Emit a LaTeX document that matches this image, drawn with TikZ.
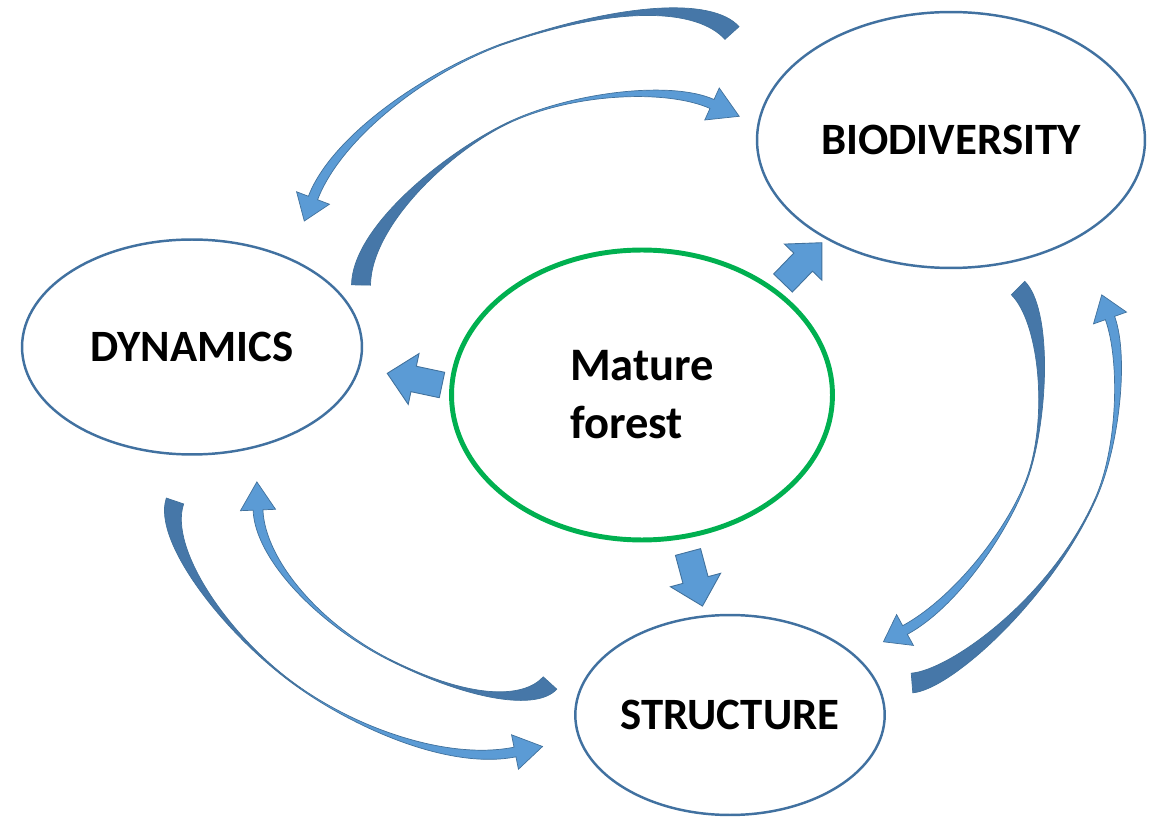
\documentclass[tikz,border=0pt]{standalone}
\usepackage{fontspec}
\setmainfont{Carlito}
\usetikzlibrary{shapes.geometric,calc}
\definecolor{ellblue}{RGB}{65,113,160}
\definecolor{arrdark}{RGB}{70,119,168}
\definecolor{arrlight}{RGB}{91,155,213}
\definecolor{arrline}{RGB}{65,113,156}
\definecolor{forestgreen}{RGB}{0,176,80}
\tikzset{
  topic/.style={ellipse, draw=ellblue, line width=1.4pt, fill=white, inner sep=0pt,
    font=\bfseries\fontsize{25.5}{30}\selectfont},
  central/.style={ellipse, draw=forestgreen, line width=2.8pt, fill=white, inner sep=0pt,
    align=left, font=\bfseries\fontsize{26.5}{33}\selectfont},
  darkpart/.style={fill=arrdark, draw=arrline, line width=0.4pt},
  lightpart/.style={fill=arrlight, draw=arrline, line width=0.4pt},
  blockstyle/.style={fill=arrlight, draw=arrline, line width=0.5pt}
}
% curved tapering arrow: #1 name, #2 tail half width, #3 mid half width, #4 end half width, #5 head half width, #6 head length
\newcommand\bendarrow[6]{%
  \path
    ($(#1-0)!#2!90:(#1-1)$) coordinate (#1-a0)
    ($(#1-0)!#2!-90:(#1-1)$) coordinate (#1-b0)
    ($(#1-m)!#3!90:(#1-3)$) coordinate (#1-am)
    ($(#1-m)!#3!-90:(#1-3)$) coordinate (#1-bm)
    ($(#1-e)!#4!-90:(#1-4)$) coordinate (#1-ae)
    ($(#1-e)!#4!90:(#1-4)$) coordinate (#1-be)
    ($(#1-e)!#5!-90:(#1-4)$) coordinate (#1-ha)
    ($(#1-e)!#5!90:(#1-4)$) coordinate (#1-hb)
    ($(#1-e)!-#6!(#1-4)$) coordinate (#1-tip);
  \filldraw[darkpart] (#1-a0) .. controls ($(#1-1)+(#1-a0)-(#1-0)$) and ($(#1-2)+(#1-am)-(#1-m)$) .. (#1-am)
    -- (#1-bm) .. controls ($(#1-2)+(#1-bm)-(#1-m)$) and ($(#1-1)+(#1-b0)-(#1-0)$) .. (#1-b0) -- cycle;
  \filldraw[lightpart] (#1-am) .. controls ($(#1-3)+(#1-am)-(#1-m)$) and ($(#1-4)+(#1-ae)-(#1-e)$) .. (#1-ae)
    -- (#1-ha) -- (#1-tip) -- (#1-hb) -- (#1-be)
    .. controls ($(#1-4)+(#1-be)-(#1-e)$) and ($(#1-3)+(#1-bm)-(#1-m)$) .. (#1-bm) -- cycle;
}
\newcommand\blockarr[2]{%
  \filldraw[blockstyle, shift={#1}, rotate=#2]
    (0,-13) -- (29,-13) -- (29,-26) -- (56,0) -- (29,26) -- (29,13) -- (0,13) -- cycle;
}
\begin{document}
\begin{tikzpicture}[x=0.02cm, y=-0.02cm]
\useasboundingbox (0,0) rectangle (1156,820);

% nodes
\node[topic, minimum width=6.8cm, minimum height=4.3cm] (dyn) at (192,347) {DYNAMICS\hspace{4pt}};
\node[topic, minimum width=7.76cm, minimum height=5.12cm] (bio) at (951,140) {BIODIVERSITY};
\node[central, minimum width=7.62cm, minimum height=5.8cm] (mat) at (642,395) {Mature\\forest};
\node[topic, minimum width=5.86cm, minimum height=4cm] (str) at (730,715) {STRUCTURE};

% block arrows from the central node
\blockarr{(442,385)}{168}
\blockarr{(783,283)}{46}
\blockarr{(688,552)}{-75}

% A: biodiversity -> dynamics (outer top)
\coordinate (A-0) at (732,33);
\coordinate (A-1) at (705,3);
\coordinate (A-2) at (620,3);
\coordinate (A-m) at (500,45);
\coordinate (A-3) at (420,75);
\coordinate (A-4) at (335,140);
\coordinate (A-e) at (313,198);
\bendarrow{A}{5.4pt}{0.35pt}{2.8pt}{10pt}{14pt}

% B: dynamics -> biodiversity (inner top)
\coordinate (B-0) at (361,285);
\coordinate (B-1) at (362,225);
\coordinate (B-2) at (450,150);
\coordinate (B-m) at (510,122);
\coordinate (B-3) at (575,92);
\coordinate (B-4) at (670,85);
\coordinate (B-e) at (712,104);
\bendarrow{B}{5.4pt}{0.35pt}{2.8pt}{10pt}{17pt}

% C: biodiversity -> structure (inner right)
\coordinate (C-0) at (1018,288);
\coordinate (C-1) at (1045,315);
\coordinate (C-2) at (1048,410);
\coordinate (C-m) at (1030,470);
\coordinate (C-3) at (1015,520);
\coordinate (C-4) at (960,600);
\coordinate (C-e) at (905,630);
\bendarrow{C}{5.4pt}{0.35pt}{2.8pt}{10pt}{14pt}

% D: structure -> biodiversity (outer right)
\coordinate (D-0) at (912,683);
\coordinate (D-1) at (950,680);
\coordinate (D-2) at (1050,600);
\coordinate (D-m) at (1095,500);
\coordinate (D-3) at (1118,450);
\coordinate (D-4) at (1125,360);
\coordinate (D-e) at (1110,318);
\bendarrow{D}{5.6pt}{0.35pt}{2.8pt}{10pt}{14pt}

% E: dynamics -> structure (outer bottom)
\coordinate (E-0) at (175,501);
\coordinate (E-1) at (160,545);
\coordinate (E-2) at (228,638);
\coordinate (E-m) at (300,688);
\coordinate (E-3) at (360,730);
\coordinate (E-4) at (450,765);
\coordinate (E-e) at (515,752);
\bendarrow{E}{5.2pt}{0.35pt}{2.8pt}{10pt}{16pt}

% F: structure -> dynamics (inner bottom)
\coordinate (F-0) at (550,683);
\coordinate (F-1) at (530,705);
\coordinate (F-2) at (470,700);
\coordinate (F-m) at (390,660);
\coordinate (F-3) at (320,625);
\coordinate (F-4) at (260,560);
\coordinate (F-e) at (258,510);
\bendarrow{F}{5.2pt}{0.35pt}{2.8pt}{10pt}{16pt}
\end{tikzpicture}
\end{document}
